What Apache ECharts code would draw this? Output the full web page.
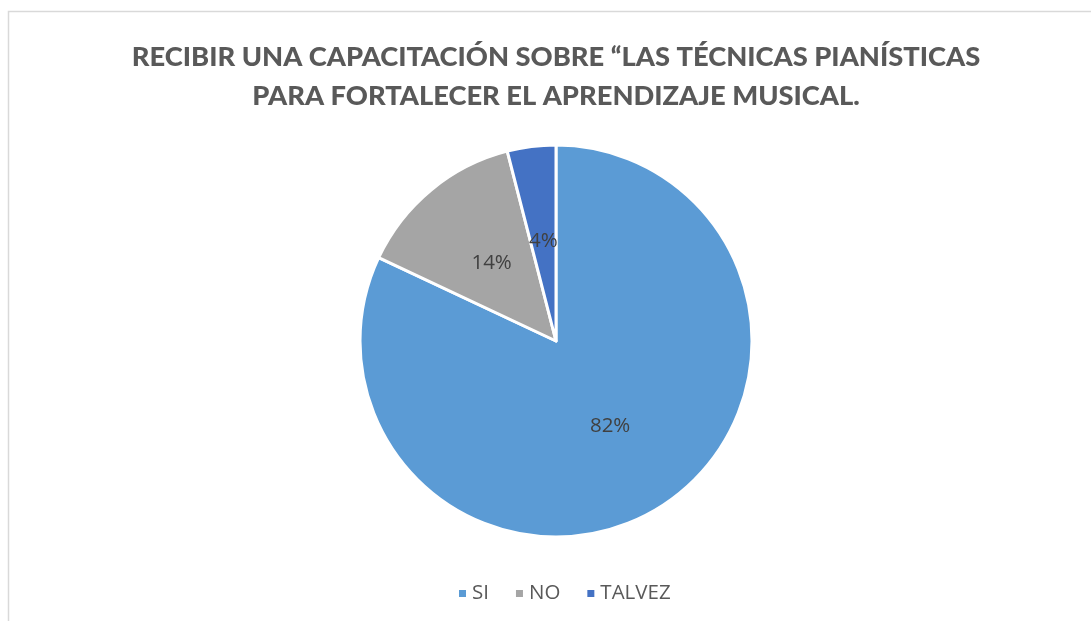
<!DOCTYPE html>
<html>
<head>
<meta charset="utf-8">
<script src="https://cdn.jsdelivr.net/npm/echarts@6/dist/echarts.min.js"></script>
<style>
  html, body { margin: 0; padding: 0; background: #fff; }
  #chart { width: 1091px; height: 621px; }
</style>
</head>
<body>
<div id="chart"></div>
<script>
const titleLines = ['RECIBIR UNA CAPACITACIÓN SOBRE “LAS TÉCNICAS PIANÍSTICAS', 'PARA FORTALECER EL APRENDIZAJE MUSICAL.']
const categories = ['SI', 'NO', 'TALVEZ']
const percents = [82, 14, 4]
const colors = ['#5B9BD5', '#A5A5A5', '#4472C4']

let chart = echarts.init(document.getElementById('chart'))

let option = {
  backgroundColor: '#fff',
  color: colors,
  animation: false,
  title: {
    text: titleLines.join('\n'),
    left: 551,
    top: 33,
    textAlign: 'center',
    textStyle: {
      fontFamily: 'Lato',
      fontWeight: 900,
      fontSize: 27.3,
      lineHeight: 39,
      color: '#595959'
    }
  },
  graphic: [{
    type: 'rect',
    shape: { x: 8.5, y: 11.5, width: 1100, height: 620 },
    style: { fill: 'none', stroke: '#d9d9d9', lineWidth: 1.5 },
    silent: true
  }],
  legend: {
    data: categories,
    left: 452,
    top: 578,
    orient: 'horizontal',
    icon: 'rect',
    itemWidth: 9,
    itemHeight: 9,
    itemGap: 25,
    textStyle: { fontFamily: 'Open Sans', fontSize: 20.5, color: '#595959' }
  },
  series: [{
    type: 'pie',
    center: [556, 341],
    radius: [0, 196],
    startAngle: 90,
    clockwise: true,
    itemStyle: { borderColor: '#fff', borderWidth: 3 },
    label: {
      position: 'inside',
      formatter: p => p.value + '%',
      fontFamily: 'Open Sans',
      fontSize: 20.5,
      color: '#404040'
    },
    labelLine: { show: false },
    emphasis: { disabled: true },
    data: categories.map((c, i) => ({ name: c, value: percents[i] }))
  }]
}

chart.setOption(option)
</script>
</body>
</html>
